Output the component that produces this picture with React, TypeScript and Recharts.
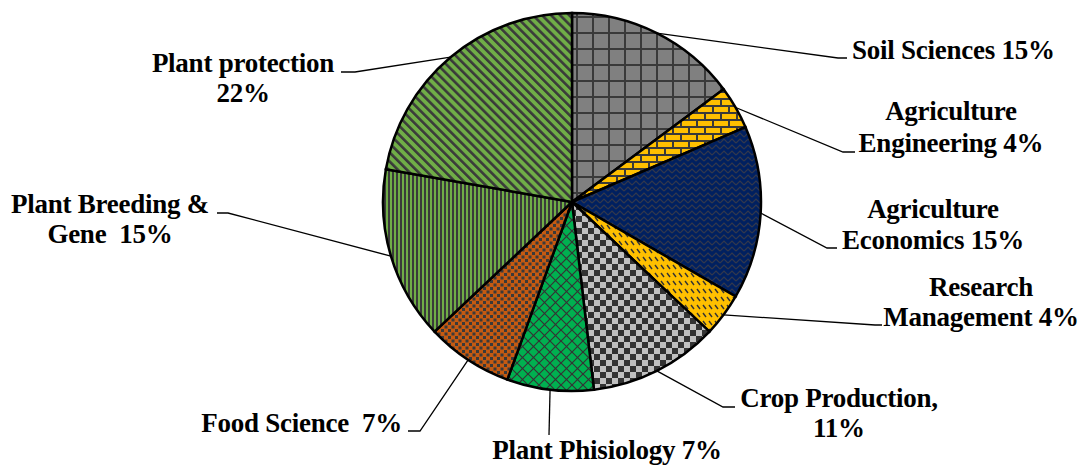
import React from 'react';
import { PieChart, Pie, Cell } from 'recharts';

// counts per field (27 in total), the labels show the rounded share
const categories = [
  'Soil Sciences',
  'Agriculture Engineering',
  'Agriculture Economics',
  'Research Management',
  'Crop Production',
  'Plant Phisiology',
  'Food Science',
  'Plant Breeding & Gene',
  'Plant protection',
];
const counts = [4, 1, 4, 1, 3, 2, 2, 4, 6];

// label text as printed, {p} is replaced by the rounded percentage
const labelLines = [
  ['Soil Sciences {p}%'],
  ['Agriculture', 'Engineering {p}%'],
  ['Agriculture', 'Economics {p}%'],
  ['Research', 'Management {p}%'],
  ['Crop Production,', '{p}%'],
  ['Plant Phisiology {p}%'],
  ['Food Science  {p}%'],
  ['Plant Breeding &', 'Gene  {p}%'],
  ['Plant protection', '{p}%'],
];

const total = counts.reduce((a, b) => a + b, 0);
const data = categories.map((name, i) => ({ name, value: counts[i] }));

// where each label sits and where its leader line bends
const LABEL_LAYOUT = [
  { elbow: [838, 58], end: [847, 58], x: 852, anchor: 'start', ys: [59] },
  { elbow: [843, 152], end: [855, 152], x: 951, anchor: 'middle', ys: [120, 152] },
  { elbow: [827, 248], end: [837, 248], x: 933, anchor: 'middle', ys: [218, 249] },
  { elbow: [875, 325], end: [882, 325], x: 981, anchor: 'middle', ys: [296, 326] },
  { elbow: [723, 407], end: [735, 407], x: 839, anchor: 'middle', ys: [407, 437] },
  { elbow: [549, 435], end: [549, 435], x: 607, anchor: 'middle', ys: [459] },
  { elbow: [420, 431], end: [408, 431], x: 402, anchor: 'end', ys: [432] },
  { elbow: [228, 213], end: [217, 213], x: 110, anchor: 'middle', ys: [213, 243] },
  { elbow: [355, 72], end: [341, 72], x: 243, anchor: 'middle', ys: [72, 102] },
];

const DARK = '#3a3a3a';
const RAD = Math.PI / 180;
const FONT = 'Liberation Serif, DejaVu Serif, serif';

const renderLabel = (props: any) => {
  const { cx, cy, midAngle, outerRadius, index } = props;
  const sx = cx + outerRadius * Math.cos(-midAngle * RAD);
  const sy = cy + outerRadius * Math.sin(-midAngle * RAD);
  const lay = LABEL_LAYOUT[index];
  const pct = Math.round((counts[index] / total) * 100);
  return (
    <g key={`lbl-${index}`} className="pie-lbl">
      <polyline
        points={`${sx},${sy} ${lay.elbow[0]},${lay.elbow[1]} ${lay.end[0]},${lay.end[1]}`}
        fill="none"
        stroke="#000"
        strokeWidth={1.3}
      />
      {labelLines[index].map((t, i) => (
        <text
          key={i}
          x={lay.x}
          y={lay.ys[i]}
          textAnchor={lay.anchor}
          fill="#000"
          fontFamily={FONT}
          fontWeight={700}
          fontSize={27}
          letterSpacing={-0.25}
          style={{ whiteSpace: 'pre' }}
        >
          {t.replace('{p}', String(pct))}
        </text>
      ))}
    </g>
  );
};

export default function App() {
  return (
    <div style={{ position: 'absolute', left: 0, top: 0, width: 1082, height: 466, background: '#fff' }}>
      <style>{`.pie-lbl text { font-family: 'Liberation Serif', 'DejaVu Serif', serif !important; }`}</style>
      <PieChart width={1082} height={466} margin={{ top: 0, right: 0, bottom: 0, left: 0 }}>
        <defs>
          <pattern id="p0" patternUnits="userSpaceOnUse" width={16} height={16}>
            <rect width={16} height={16} fill="#808080" />
            <rect x={0} y={0} width={2} height={16} fill={DARK} />
            <rect x={0} y={0} width={16} height={2} fill={DARK} />
          </pattern>
          <pattern id="p1" patternUnits="userSpaceOnUse" width={16} height={14}>
            <rect width={16} height={14} fill="#FFC000" />
            <rect x={0} y={0} width={16} height={2} fill={DARK} />
            <rect x={0} y={7} width={16} height={2} fill={DARK} />
            <rect x={0} y={0} width={2} height={7} fill={DARK} />
            <rect x={8} y={7} width={2} height={7} fill={DARK} />
          </pattern>
          <pattern id="p2" patternUnits="userSpaceOnUse" width={8} height={6}>
            <rect width={8} height={6} fill="#002060" />
            <polyline points="0,5 4,1 8,5" fill="none" stroke="#34384a" strokeWidth={1.1} />
          </pattern>
          <pattern id="p3" patternUnits="userSpaceOnUse" width={6} height={8}>
            <rect width={6} height={8} fill="#FFC000" />
            <line x1={1} y1={1} x2={4} y2={5} stroke="#333" strokeWidth={1.4} />
          </pattern>
          <pattern id="p4" patternUnits="userSpaceOnUse" width={12} height={12}>
            <rect width={12} height={12} fill="#C0C0C0" />
            <rect x={0} y={0} width={6} height={6} fill="#333" />
            <rect x={6} y={6} width={6} height={6} fill="#333" />
          </pattern>
          <pattern id="p5" patternUnits="userSpaceOnUse" width={11} height={11}>
            <rect width={11} height={11} fill="#00B050" />
            <line x1={0} y1={0} x2={11} y2={11} stroke="#333" strokeWidth={1.2} />
            <line x1={11} y1={0} x2={0} y2={11} stroke="#333" strokeWidth={1.2} />
          </pattern>
          <pattern id="p6" patternUnits="userSpaceOnUse" width={7} height={7}>
            <rect width={7} height={7} fill="#C55A11" />
            <rect x={0} y={0} width={3} height={3} fill="#3a3a3a" />
            <rect x={3.5} y={3.5} width={3} height={3} fill="#3a3a3a" />
          </pattern>
          <pattern id="p7" patternUnits="userSpaceOnUse" width={4} height={4}>
            <rect width={4} height={4} fill="#70AD47" />
            <rect x={0} y={0} width={2} height={4} fill={DARK} />
          </pattern>
          <pattern id="p8" patternUnits="userSpaceOnUse" width={6.4} height={6.4} patternTransform="rotate(-45)">
            <rect width={6.4} height={6.4} fill="#70AD47" />
            <rect x={0} y={0} width={2.6} height={6.4} fill={DARK} />
          </pattern>
        </defs>
        <Pie
          data={data}
          dataKey="value"
          nameKey="name"
          cx={572}
          cy={202}
          innerRadius={0}
          outerRadius={189}
          startAngle={90}
          endAngle={-270}
          isAnimationActive={false}
          label={renderLabel}
          labelLine={false}
        >
          {data.map((_, i) => (
            <Cell key={i} fill={`url(#p${i})`} stroke="#000" strokeWidth={2.5} />
          ))}
        </Pie>
      </PieChart>
    </div>
  );
}
